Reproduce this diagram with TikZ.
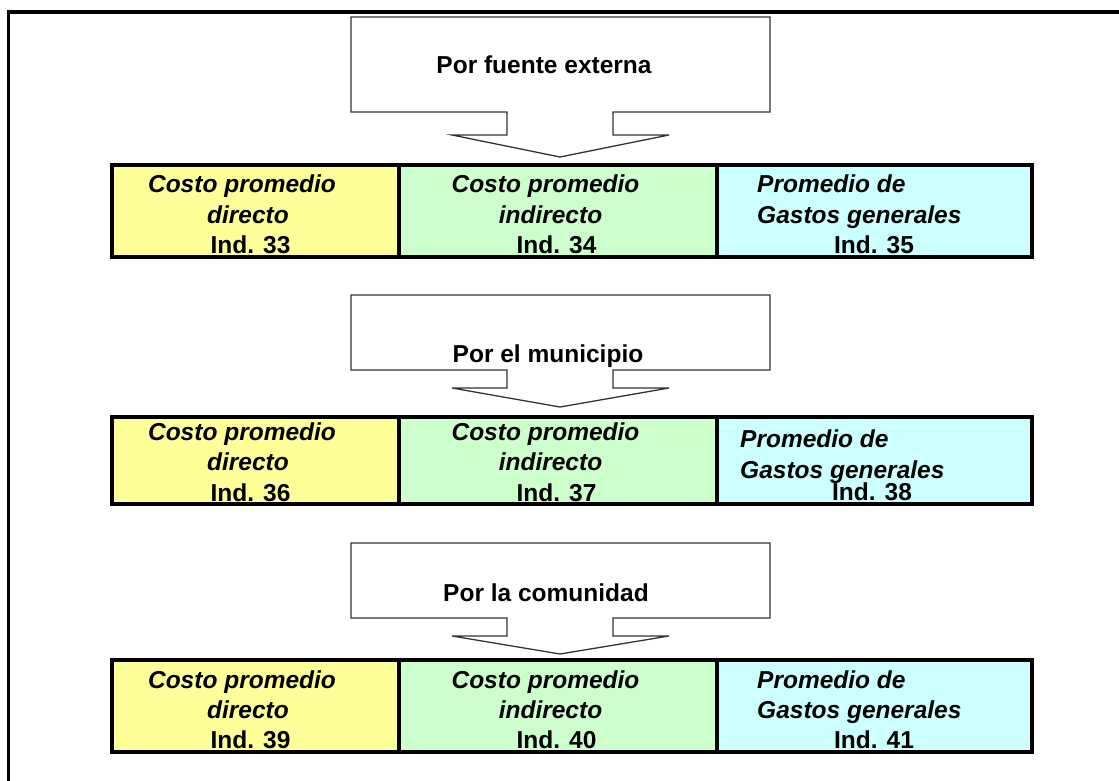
\documentclass[tikz,border=0pt]{standalone}
\usepackage{fontspec}
\setmainfont{Liberation Sans}
\definecolor{cyel}{HTML}{FFFF99}
\definecolor{cgrn}{HTML}{CCFFCC}
\definecolor{ccyn}{HTML}{CCFFFF}
\definecolor{cline}{HTML}{333333}
\newcommand\figfont{\fontsize{24.5pt}{30pt}\selectfont}
\begin{document}
\begin{tikzpicture}[x=1pt,y=-1pt,
  cell/.style={draw=black, line width=4pt, inner sep=0pt, outer sep=0pt},
  callout/.style={draw=cline, line width=1.3pt, fill=white, line join=miter},
  it/.style={font=\figfont\bfseries\itshape, inner sep=0pt},
  bf/.style={font=\figfont\bfseries, inner sep=0pt}]
\useasboundingbox (0,0) rectangle (1119,781);
\fill[white] (0,0) rectangle (1119,781);
% outer frame
\coordinate (fbl) at (8.5,781);
\coordinate (ftl) at (8.5,12);
\coordinate (ftr) at (1119,12);
\draw[line width=3.5pt] (fbl) -- (ftl) -- (ftr);
% callouts
\foreach \t/\b/\s/\p in {17/112/135/157, 295/370/388/407, 543/618/636/654}
  \draw[callout] (351,\t) -- (770,\t) -- (770,\b) -- (613,\b) -- (613,\s) -- (669,\s)
     -- (560,\p) -- (452,\s) -- (507,\s) -- (507,\b) -- (351,\b) -- cycle;
\node[bf, anchor=base] (c1) at (544,74) {Por fuente externa};
\node[bf, anchor=base] (c2) at (548,362) {Por el municipio};
\node[bf, anchor=base] (c3) at (546,601) {Por la comunidad};
% rows of cells
\foreach \r/\cy/\h in {1/211/92, 2/460.25/87.5, 3/706/92} {
  \node[cell, fill=cyel, minimum width=287.5pt, minimum height=\h pt] (y\r) at (255.25,\cy) {};
  \node[cell, fill=cgrn, minimum width=318pt, minimum height=\h pt] (g\r) at (558,\cy) {};
  \node[cell, fill=ccyn, minimum width=314.5pt, minimum height=\h pt] (b\r) at (874.25,\cy) {};
}
% row texts
\foreach \r/\a/\bb/\c/\ny/\ng/\nb in {1/193/223/253/33/34/35, 2/440/470/501/36/37/38, 3/688/718/748/39/40/41} {
  \node[it, anchor=base] (y\r a) at (242,\a) {Costo promedio};
  \node[it, anchor=base] (y\r b) at (248,\bb) {directo};
  \node[bf, anchor=base] (y\r c) at (250.5,\c) {Ind. \ny};
  \node[it, anchor=base] (g\r a) at (545.5,\a) {Costo promedio};
  \node[it, anchor=base] (g\r b) at (550.5,\bb) {indirecto};
  \node[bf, anchor=base] (g\r c) at (556.5,\c) {Ind. \ng};
}
\node[it, anchor=base west] (b1a) at (757,193) {Promedio de};
\node[it, anchor=base west] (b1b) at (757,223) {Gastos generales};
\node[bf, anchor=base] (b1c) at (874,253) {Ind. 35};
\node[it, anchor=base west] (b2a) at (740,447) {Promedio de};
\node[it, anchor=base west] (b2b) at (740,478) {Gastos generales};
\node[bf, anchor=base] (b2c) at (872,500) {Ind. 38};
\node[it, anchor=base west] (b3a) at (757,688) {Promedio de};
\node[it, anchor=base west] (b3b) at (757,718) {Gastos generales};
\node[bf, anchor=base] (b3c) at (874,748) {Ind. 41};
\end{tikzpicture}
\end{document}
